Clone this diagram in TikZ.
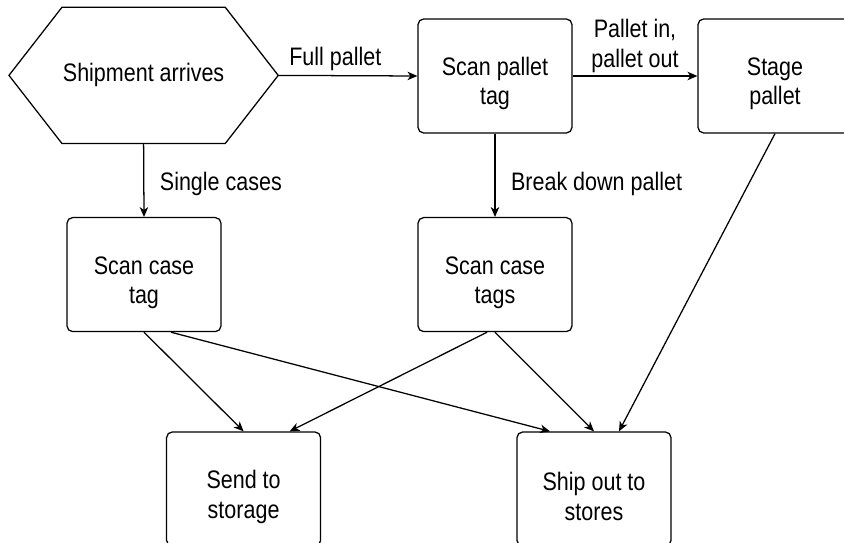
\documentclass[tikz,border=0pt]{standalone}
\usepackage{fontspec}
\setmainfont{Liberation Sans}[FakeStretch=0.85]
\usetikzlibrary{arrows.meta, positioning}
\tikzset{
  every picture/.style={font=\fontsize{18}{21}\selectfont, line width=0.9pt},
  start/.style={minimum width=6.7cm, minimum height=3.375cm, inner sep=0pt},
  box/.style={draw, rounded corners=4pt, align=center, minimum width=3.85cm, minimum height=2.85cm, inner sep=2pt, text height=45pt},
  arrow/.style={-{Stealth[length=7pt, width=6pt, inset=2pt]}, line width=0.9pt},
  note/.style={align=center, inner sep=5pt},
}

\begin{document}
\begin{tikzpicture}
  \useasboundingbox (0,0) rectangle (21.1,13.575);
  \node[start] (arrive) at (3.59,11.69) {Shipment arrives};
  % hexagon outline of the start node
  \draw (arrive.west) -- ([xshift=1.325cm]arrive.north west) -- ([xshift=-1.325cm]arrive.north east)
    -- (arrive.east) -- ([xshift=-1.325cm]arrive.south east) -- ([xshift=1.325cm]arrive.south west) -- cycle;
  \node[box] (pallet) at (12.375,11.675) {Scan pallet\\ tag};
  \node[box] (stage) at (19.375,11.675) {Stage\\ pallet};
  \node[box] (casetag) at (3.6,6.71) {Scan case\\ tag};
  \node[box] (casetags) at (12.375,6.71) {Scan case\\ tags};
  \node[box] (storage) at (6.09,1.35) {Send to\\ storage};
  \node[box] (ship) at (14.85,1.35) {Ship out to\\ stores};
  \draw[arrow] (arrive.east) -- (pallet.west) node[pos=0.41, above=-2pt, note] {Full pallet};
  \draw[arrow] (pallet.east) -- (stage.west) node[midway, above=-3pt, note] {Pallet in,\\ pallet out};
  \draw[arrow] (arrive.south) -- (casetag.north) node[pos=0.55, right=6pt, note] {Single cases};
  \draw[arrow] (pallet.south) -- (casetags.north) node[pos=0.6, right=6pt, note] {Break down pallet};
  \draw[arrow] (stage.south) -- ([xshift=0.625cm]ship.north);
  \draw[arrow] (casetag.south) -- (storage.north);
  \draw[arrow] ([xshift=0.675cm]casetag.south) -- ([xshift=-1.1cm]ship.north);
  \draw[arrow] ([xshift=-0.2cm]casetags.south) -- ([xshift=1.15cm]storage.north);
  \draw[arrow] (casetags.south) -- (ship.north);
\end{tikzpicture}
\end{document}
